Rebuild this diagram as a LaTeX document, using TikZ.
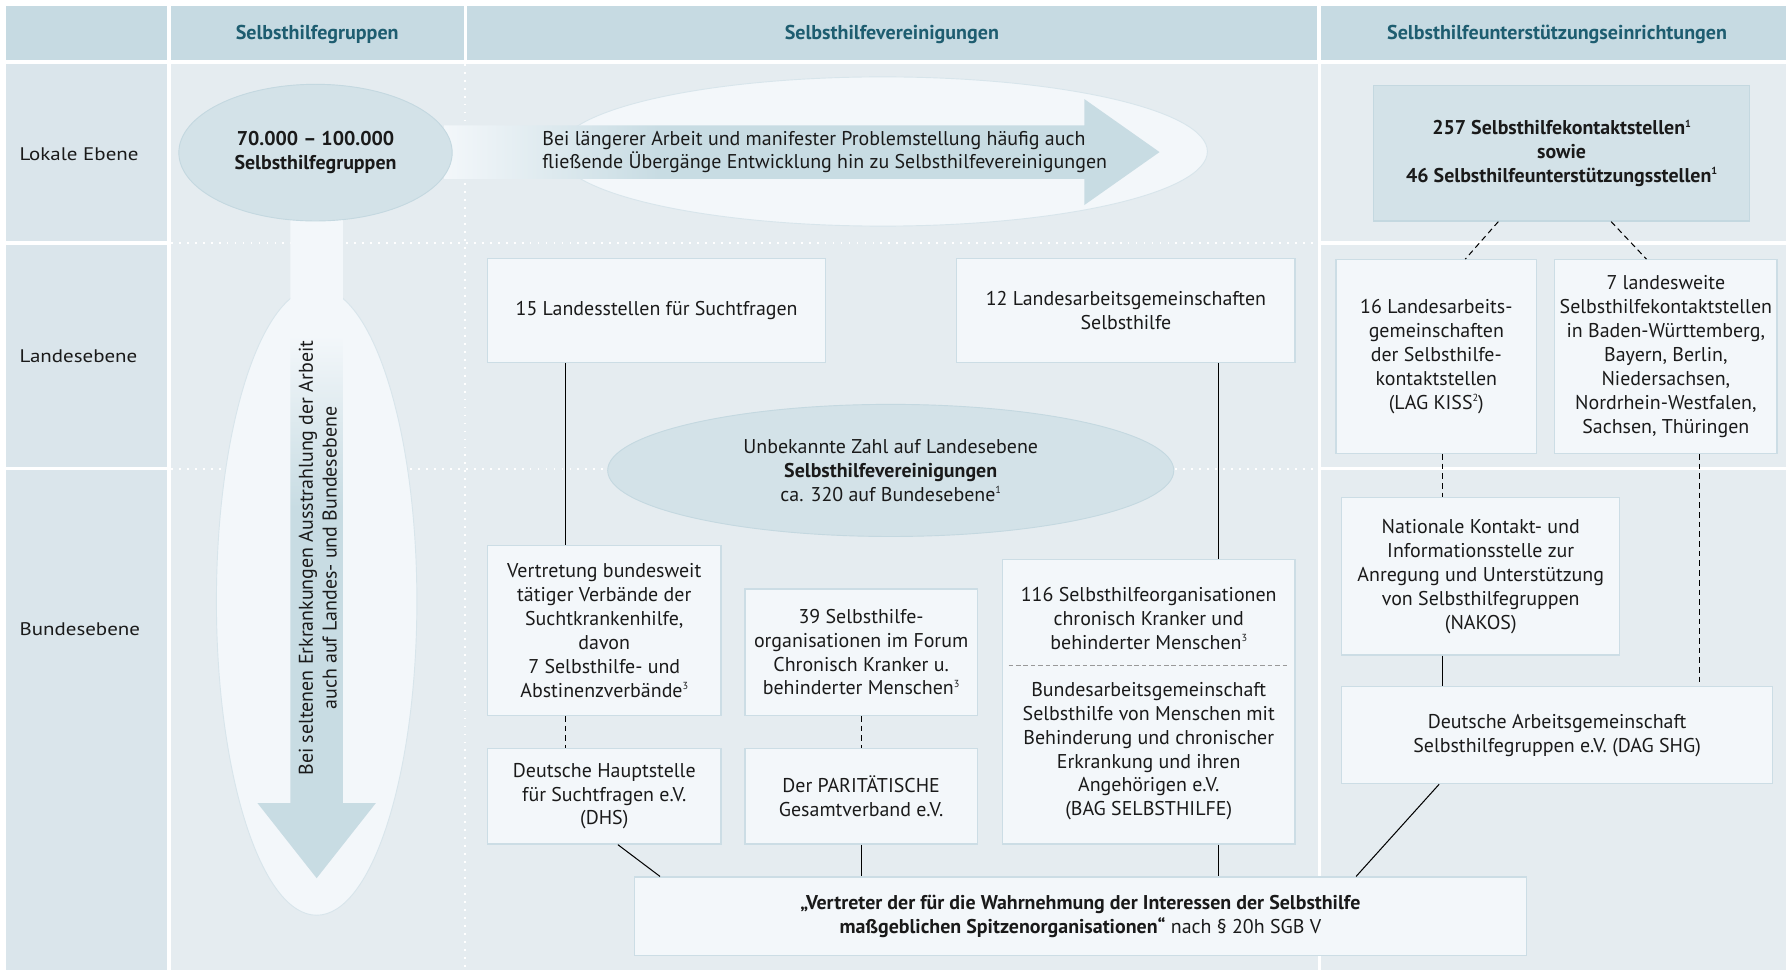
\documentclass[tikz,border=0pt]{standalone}
\usepackage{fontspec}
\setmainfont{PT Sans}
\newfontfamily\widefont{PT Sans}[FakeStretch=1.15]
\usetikzlibrary{calc,shapes.geometric}
\definecolor{hdrc}{HTML}{C6DAE2}
\definecolor{lcolc}{HTML}{DAE5EB}
\definecolor{areac}{HTML}{E5ECF0}
\definecolor{boxfc}{HTML}{F3F7FA}
\definecolor{boxbc}{HTML}{CCDDE5}
\definecolor{darkc}{HTML}{D3E2E8}
\definecolor{darkbc}{HTML}{C4D8E0}
\definecolor{arrowc}{HTML}{C8DCE3}
\definecolor{tealc}{HTML}{1E5D70}
\definecolor{txtc}{HTML}{1A1A1A}
\newcommand\bxfont{\fontsize{17.5}{21}\selectfont}
\newcommand\supx[1]{\raisebox{0.75ex}{\fontsize{9}{9}\selectfont #1}}
\pgfdeclarehorizontalshading{harrow}{100bp}{color(0bp)=(boxfc); color(25bp)=(boxfc); color(40bp)=(arrowc); color(100bp)=(arrowc)}
\pgfdeclareverticalshading{varrow}{100bp}{color(0bp)=(arrowc); color(53bp)=(arrowc); color(66bp)=(boxfc); color(100bp)=(boxfc)}
\begin{document}
\begin{tikzpicture}[x=1pt,y=-1pt,
  every node/.style={text=txtc},
  bx/.style={draw=boxbc, line width=1.1pt, fill=boxfc, inner sep=1pt, align=center, font=\bxfont},
  dkbox/.style={bx, fill=darkc, draw=darkbc},
  conn/.style={line width=0.9pt, draw=black},
  dconn/.style={conn, dash pattern=on 5pt off 3.5pt},
  gridline/.style={draw=white, line width=1.6pt, dash pattern=on 1.6pt off 5.4pt},
  hdrtxt/.style={font=\bfseries\fontsize{17.6}{20}\selectfont, text=tealc},
  rowtxt/.style={font=\widefont\fontsize{16}{20}\selectfont, anchor=west, inner sep=0pt},
  ]
\useasboundingbox (0,0) rectangle (1568,852);
\fill[white] (0,0) rectangle (1568,852);
% header row
\fill[hdrc] (5,5) rectangle (147,53);
\fill[hdrc] (150,5) rectangle (407,53);
\fill[hdrc] (410,5) rectangle (1156,53);
\fill[hdrc] (1160,5) rectangle (1568,53);
% left column
\fill[lcolc] (5,56) rectangle (147,212);
\fill[lcolc] (5,215) rectangle (147,410);
\fill[lcolc] (5,413) rectangle (147,852);
% main area
\fill[areac] (150,56) rectangle (1157,852);
\fill[areac] (1160,56) rectangle (1568,212);
\fill[areac] (1160,215) rectangle (1568,410);
\fill[areac] (1160,413) rectangle (1568,852);
\draw[gridline] (150,213.5) -- (1158,213.5);
\draw[gridline] (150,411.5) -- (1158,411.5);
\draw[gridline] (408.5,56) -- (408.5,852);

% header texts
\node[hdrtxt] (h1) at (278.5,30) {Selbsthilfegruppen};
\node[hdrtxt] (h2) at (783,30) {Selbsthilfevereinigungen};
\node[hdrtxt] (h3) at (1367,30) {Selbsthilfeunterstützungseinrichtungen};
% row labels
\node[rowtxt] (r1) at (17,135) {Lokale Ebene};
\node[rowtxt] (r2) at (17,313) {Landesebene};
\node[rowtxt] (r3) at (17,552) {Bundesebene};

% light ellipses
\node[ellipse, fill=boxfc, draw=boxbc!70!boxfc, line width=0.8pt, minimum width=570pt, minimum height=131pt, inner sep=0pt] (hell) at (775,133) {};
\node[ellipse, fill=boxfc, draw=boxbc!70!boxfc, line width=0.8pt, minimum width=176pt, minimum height=551pt, inner sep=0pt] (vell) at (278,528) {};

% arrows
\shade[shading=harrow] (390,110) -- (952,110) -- (952,87) -- (1018,133.5) -- (952,180) -- (952,157) -- (390,157) -- cycle;
\shade[shading=varrow] (255,190) -- (301,190) -- (301,705) -- (330,705) -- (278,771) -- (226,705) -- (255,705) -- cycle;

\node[anchor=west, align=left, font=\bxfont, inner sep=0pt] (htxt) at (476,133.5) {Bei längerer Arbeit und manifester Problemstellung häufig auch\\fließende Übergänge Entwicklung hin zu Selbsthilfevereinigungen};
\node[rotate=90, align=center, font=\bxfont, inner sep=0pt] (vtxt) at (279,490) {Bei seltenen Erkrankungen Ausstrahlung der Arbeit\\auch auf Landes- und Bundesebene};

% dark ellipses
\node[ellipse, fill=darkc, draw=darkbc, line width=0.8pt, minimum width=240pt, minimum height=120pt, inner sep=0pt, align=center, font=\bfseries\bxfont] (grp) at (277,134) {70.000 – 100.000\\Selbsthilfegruppen};
\node[ellipse, fill=darkc, draw=darkbc, line width=0.8pt, minimum width=497pt, minimum height=116pt, inner sep=0pt, align=center, font=\bxfont] (unb) at (782,413) {Unbekannte Zahl auf Landesebene\\\textbf{Selbsthilfevereinigungen}\\ca. 320 auf Bundesebene\supx{1}};

% middle column boxes
\node[bx, minimum width=297pt, minimum height=91pt] (land15) at (576.5,272.5) {15 Landesstellen für Suchtfragen};
\node[bx, minimum width=297pt, minimum height=91pt] (lag12) at (988.5,272.5) {12 Landesarbeitsgemeinschaften\\Selbsthilfe};
\node[bx, minimum width=205pt, minimum height=149pt] (vert) at (530.5,553.5) {Vertretung bundesweit\\tätiger Verbände der\\Suchtkrankenhilfe,\\davon\\7 Selbsthilfe- und\\Abstinenzverbände\supx{3}};
\node[bx, minimum width=204pt, minimum height=111pt] (f39) at (756,572.5) {39 Selbsthilfe-\\organisationen im Forum\\Chronisch Kranker u.\\behinderter Menschen\supx{3}};
\node[bx, minimum width=257pt, minimum height=250pt] (b116) at (1008.5,616) {};
\node[align=center, font=\bxfont, inner sep=0pt] (t116a) at (1008.5,543) {116 Selbsthilfeorganisationen\\chronisch Kranker und\\behinderter Menschen\supx{3}};
\node[align=center, font=\bxfont, inner sep=0pt] (t116b) at (1008.5,659.5) {Bundesarbeitsgemeinschaft\\Selbsthilfe von Menschen mit\\Behinderung und chronischer\\Erkrankung und ihren\\Angehörigen e.V.\\(BAG SELBSTHILFE)};
\draw[draw=gray!80, line width=0.8pt, dash pattern=on 4pt off 2.5pt] ([xshift=6pt,yshift=-94pt]b116.north west) -- ([xshift=-6pt,yshift=-94pt]b116.north east);
\node[bx, minimum width=205pt, minimum height=84pt] (dhs) at (530.5,699) {Deutsche Hauptstelle\\für Suchtfragen e.V.\\(DHS)};
\node[bx, minimum width=204pt, minimum height=84pt] (parit) at (756,699) {Der PARITÄTISCHE\\Gesamtverband e.V.};
\node[bx, minimum width=783pt, minimum height=69pt] (spitze) at (948.5,804.5) {\textbf{„Vertreter der für die Wahrnehmung der Interessen der Selbsthilfe}\\\textbf{maßgeblichen Spitzenorganisationen“} nach § 20h SGB V};

% right column boxes
\node[dkbox, minimum width=330pt, minimum height=119pt, font=\bfseries\bxfont] (k257) at (1371,134.5) {257 Selbsthilfekontaktstellen\supx{1}\\sowie\\46 Selbsthilfeunterstützungsstellen\supx{1}};
\node[bx, minimum width=176pt, minimum height=170pt] (lag16) at (1261,313) {16 Landesarbeits-\\gemeinschaften\\der Selbsthilfe-\\kontaktstellen\\(LAG KISS\supx{2})};
\node[bx, minimum width=195pt, minimum height=170pt] (box7) at (1462.5,313) {7 landesweite\\Selbsthilfekontaktstellen\\in Baden-Württemberg,\\Bayern, Berlin,\\Niedersachsen,\\Nordrhein-Westfalen,\\Sachsen, Thüringen};
\node[bx, minimum width=244pt, minimum height=138pt] (nakos) at (1300,506) {Nationale Kontakt- und\\Informationsstelle zur\\Anregung und Unterstützung\\von Selbsthilfegruppen\\(NAKOS)};
\node[bx, minimum width=378pt, minimum height=85pt] (dag) at (1367,645.5) {Deutsche Arbeitsgemeinschaft\\Selbsthilfegruppen e.V. (DAG SHG)};

% connectors
\draw[conn] ([xshift=69pt]land15.south west) -- ([xshift=69pt]vert.north west);
\draw[conn] ([xshift=-68pt]lag12.south east) -- ([xshift=-68pt]b116.north east);
\draw[dconn] ([xshift=69pt]vert.south west) -- ([xshift=69pt]dhs.north west);
\draw[dconn] (f39.south) -- (parit.north);
\draw[conn] ([xshift=115pt]dhs.south west) -- ([xshift=23pt]spitze.north west);
\draw[conn] (parit.south) -- (parit.south |- spitze.north);
\draw[conn] ([xshift=-68pt]b116.south east) -- ([xshift=-68pt]b116.south east |- spitze.north);
\draw[conn] ([xshift=86pt]dag.south west) -- ([xshift=-150pt]spitze.north east);
\draw[dconn] ([xshift=110pt]k257.south west) -- ([xshift=114pt]lag16.north west);
\draw[dconn] ([xshift=209pt]k257.south west) -- ([xshift=81pt]box7.north west);
\draw[dconn] ([xshift=94pt]lag16.south west) -- ([xshift=89pt]nakos.north west);
\draw[conn] ([xshift=89pt]nakos.south west) -- ([xshift=89pt]dag.north west);
\draw[dconn] ([xshift=128pt]box7.south west) -- ([xshift=128pt]box7.south west |- dag.north);
\end{tikzpicture}
\end{document}
